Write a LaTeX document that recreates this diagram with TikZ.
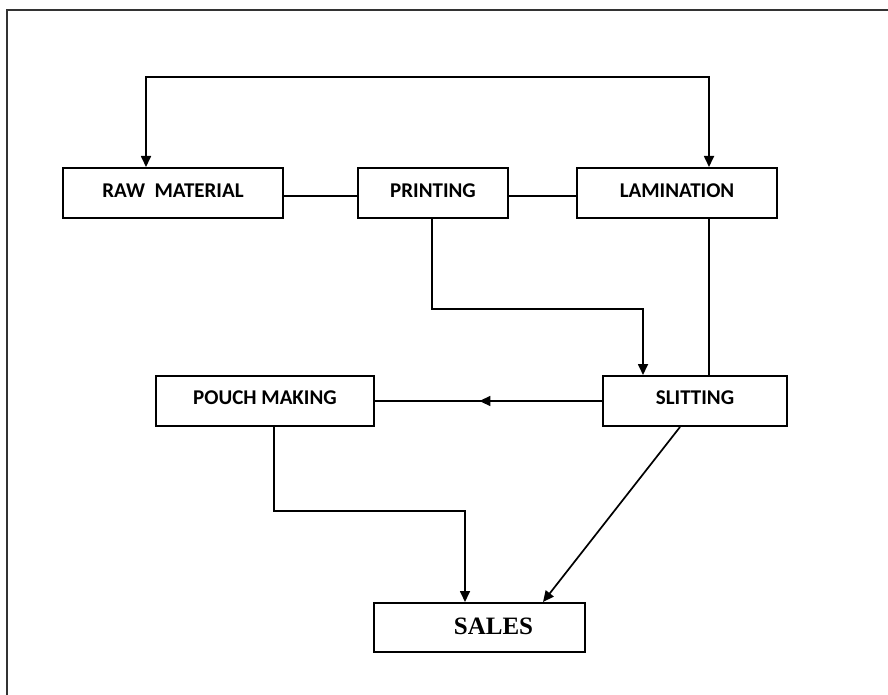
\documentclass[tikz,border=0pt]{standalone}
\usepackage{fontspec}
\newfontfamily\boxfont{Carlito}
\newfontfamily\salesfont{Liberation Serif}
\usetikzlibrary{arrows.meta,decorations.markings}
\begin{document}
\begin{tikzpicture}[x=1pt,y=-1pt,
  blk/.style={draw=black,line width=2pt,rectangle,inner sep=0pt},
  conn/.style={draw=black,line width=1.7pt},
  tip/.style={-{Triangle[length=11pt,width=10pt]}},
  both/.style={{Triangle[length=11pt,width=10pt]}-{Triangle[length=11pt,width=10pt]}},
  midarrow/.style={postaction={decorate},decoration={markings,
     mark=at position 0.54 with {\arrow{Triangle[length=11pt,width=10pt]}}}},
  lbl/.style={font=\boxfont\bfseries\fontsize{21}{24}\selectfont,text=black}
]
\useasboundingbox (0,0) rectangle (888,695);
\draw[line width=2pt,draw=black!80] (7,695) -- (7,10) -- (888,10);

\node[blk,lbl,minimum width=220pt,minimum height=50pt] (raw) at (173,193) {\raisebox{5pt}{RAW\ \ MATERIAL}};
\node[blk,lbl,minimum width=150pt,minimum height=50pt] (print) at (433,193) {\raisebox{5pt}{PRINTING}};
\node[blk,lbl,minimum width=200pt,minimum height=50pt] (lam) at (677,193) {\raisebox{5pt}{LAMINATION}};
\node[blk,lbl,minimum width=184pt,minimum height=50pt] (slit) at (695,401) {\raisebox{6pt}{SLITTING}};
\node[blk,lbl,minimum width=218pt,minimum height=50pt] (pouch) at (265,401) {\raisebox{6pt}{POUCH MAKING}};
\node[blk,minimum width=211pt,minimum height=49pt,font=\salesfont\bfseries\fontsize{25}{28}\selectfont] (sales) at (479.5,627.5) {\raisebox{2pt}{\hspace*{28pt}SALES}};

\coordinate (t1) at (146,77);
\coordinate (t2) at (709,77);
\coordinate (p1) at (643,309);
\coordinate (p2) at (465,511);

\draw[conn,both] (raw.north -| t1) -- (t1) -- (t2) -- (lam.north -| t2);
\draw[conn] ([yshift=-3pt]raw.east) -- ([yshift=-3pt]print.west);
\draw[conn] ([yshift=-3pt]print.east) -- ([yshift=-3pt]lam.west);
\draw[conn] (lam.south -| t2) -- (slit.north -| t2);
\draw[conn,tip] (print.south -| 432,0) |- (p1) -- (slit.north -| p1);
\draw[conn,midarrow] (slit.west) -- (pouch.east);
\draw[conn,tip] ([xshift=9pt]pouch.south) |- (p2) -- (sales.north -| p2);
\draw[conn,tip] ([xshift=-15pt]slit.south) -- ([xshift=63.5pt]sales.north);
\end{tikzpicture}
\end{document}
